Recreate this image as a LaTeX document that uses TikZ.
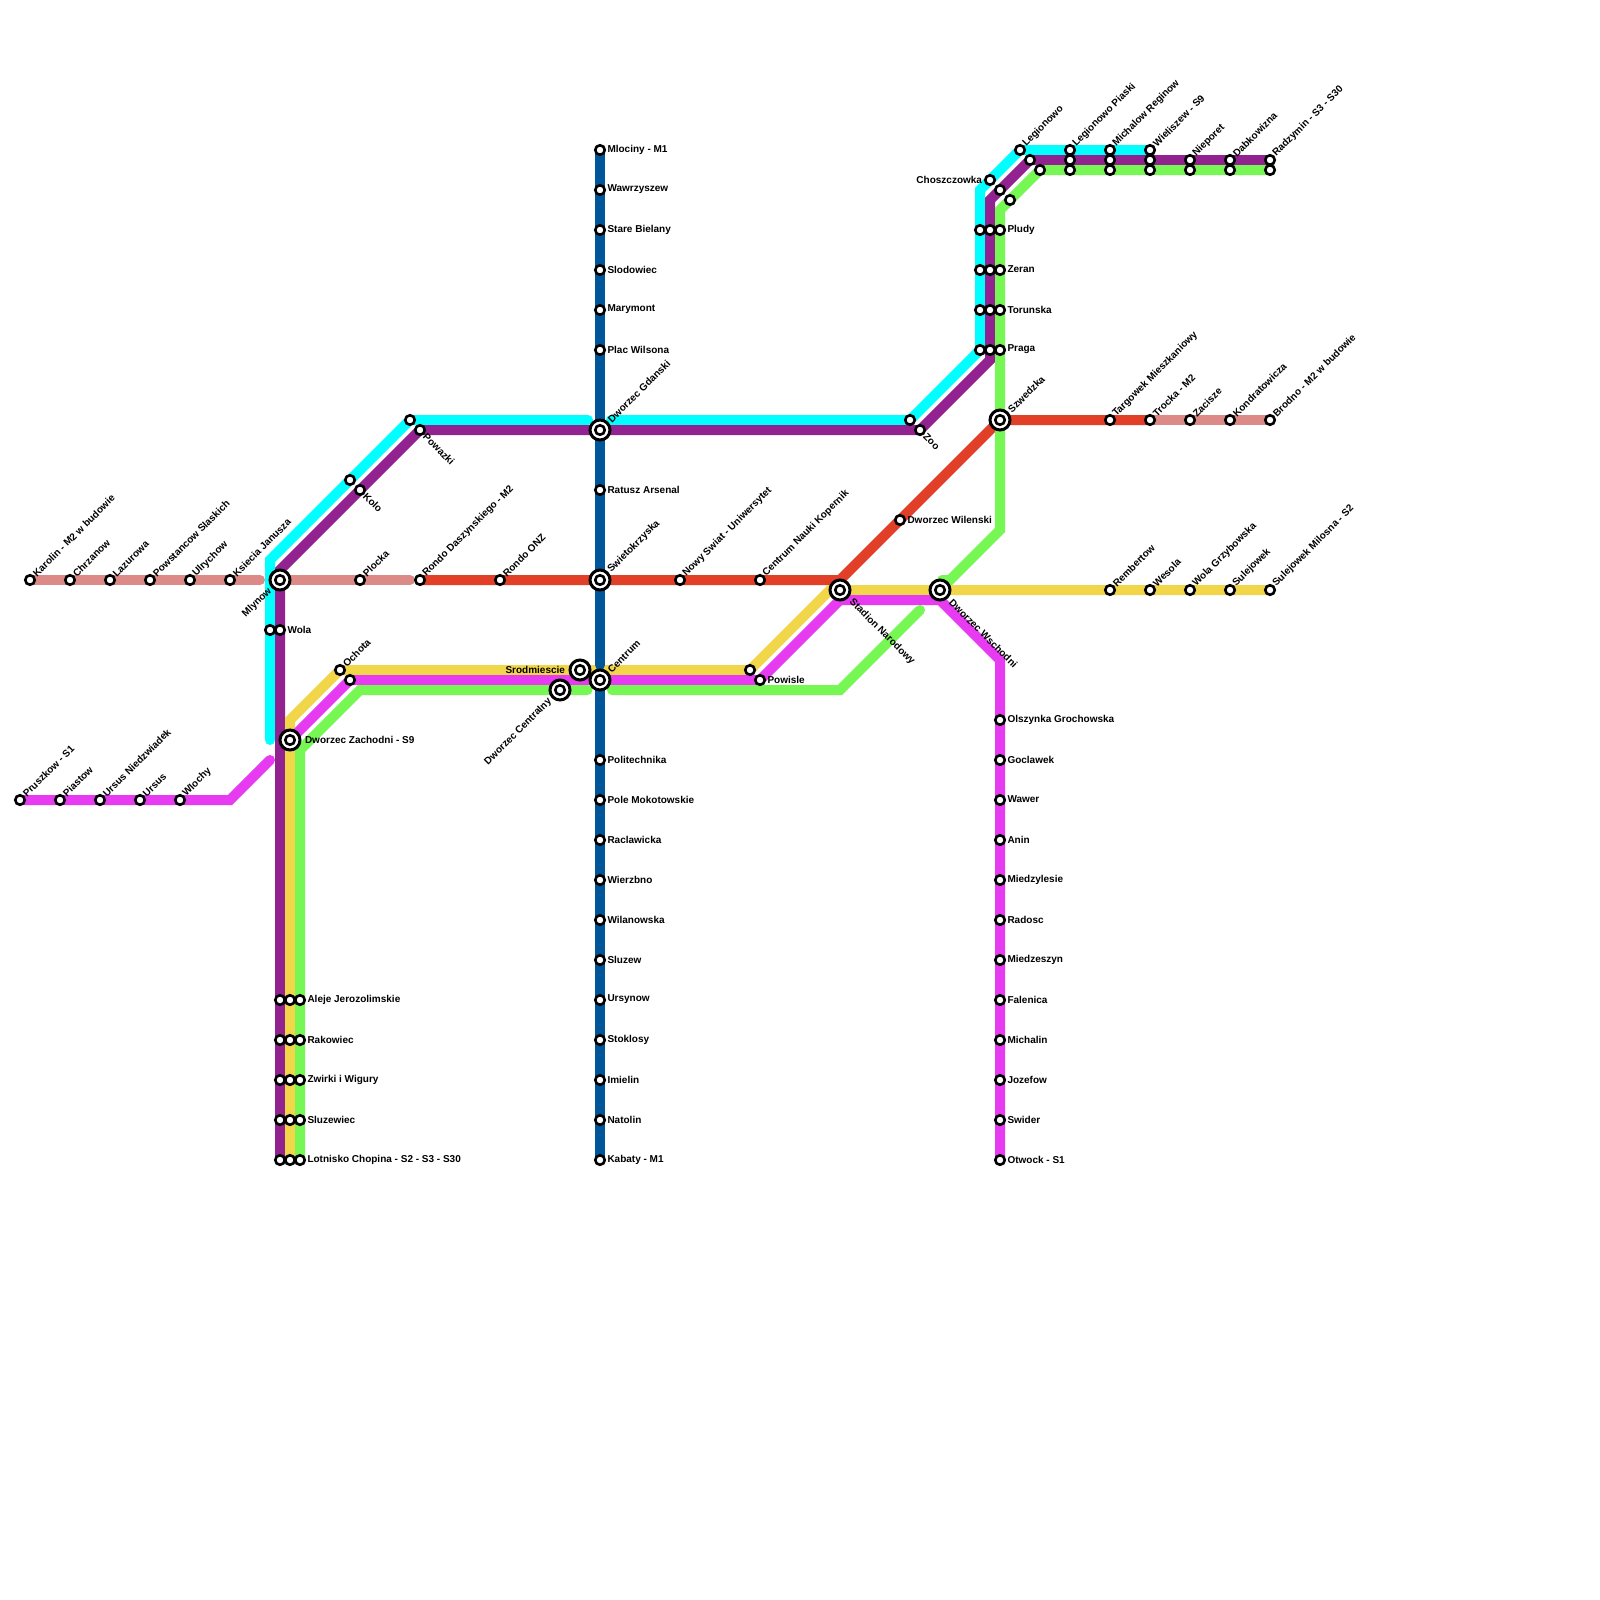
\documentclass[tikz,border=0pt]{standalone}
\usepackage{fontspec}
\setmainfont{Liberation Sans}
\pgfdeclarelayer{lines}
\pgfsetlayers{lines,main}
\definecolor{cCyan}{HTML}{00FFFF}
\definecolor{cPurple}{HTML}{92228F}
\definecolor{cMag}{HTML}{E63BF0}
\definecolor{cGreen}{HTML}{76F754}
\definecolor{cYellow}{HTML}{F2D64A}
\definecolor{cRed}{HTML}{E23F29}
\definecolor{cDusty}{HTML}{DB8A87}
\definecolor{cBlue}{HTML}{00569B}
\tikzset{
  stn/.style={circle,draw=black,fill=white,line width=1.3pt,minimum size=4.75pt,inner sep=0pt,outer sep=0pt},
  bigstn/.style={circle,draw=black,fill=white,line width=1.5pt,minimum size=10pt,inner sep=0pt,outer sep=0pt},
  lbl/.style={inner sep=0pt,outer sep=0pt,font=\fontsize{5pt}{6pt}\selectfont\bfseries,text=black},
  route/.style={line width=5pt,line cap=round,line join=miter}
}
% name x y text
\newcommand{\SP}[3]{\node[stn] (#1) at (#2,#3) {};}
\newcommand{\SNE}[4]{\SP{#1}{#2}{#3}\node[lbl,rotate=45,anchor=west] (#1-l) at ([shift={(4.5,-5)}]#2,#3) {#4};}
\newcommand{\SSE}[4]{\SP{#1}{#2}{#3}\node[lbl,rotate=-45,anchor=west] (#1-l) at ([shift={(5,5)}]#2,#3) {#4};}
\newcommand{\SR}[4]{\SP{#1}{#2}{#3}\node[lbl,anchor=west] (#1-l) at ([shift={(7.5,-0.5)}]#2,#3) {#4};}
\newcommand{\SL}[4]{\SP{#1}{#2}{#3}\node[lbl,anchor=east] (#1-l) at ([shift={(-8,-0.5)}]#2,#3) {#4};}
\newcommand{\BP}[3]{\node[bigstn] (#1) at (#2,#3) {};\node[stn] (#1-i) at (#2,#3) {};}
\newcommand{\BNE}[4]{\BP{#1}{#2}{#3}\node[lbl,rotate=45,anchor=west] (#1-l) at ([shift={(9.5,-9)}]#2,#3) {#4};}
\newcommand{\BSE}[4]{\BP{#1}{#2}{#3}\node[lbl,rotate=-45,anchor=west] (#1-l) at ([shift={(11,11)}]#2,#3) {#4};}
\newcommand{\BSW}[4]{\BP{#1}{#2}{#3}\node[lbl,rotate=45,anchor=east] (#1-l) at ([shift={(-10,10)}]#2,#3) {#4};}
\newcommand{\BR}[4]{\BP{#1}{#2}{#3}\node[lbl,anchor=west] (#1-l) at ([shift={(15,-0.5)}]#2,#3) {#4};}
\newcommand{\BL}[4]{\BP{#1}{#2}{#3}\node[lbl,anchor=east] (#1-l) at ([shift={(-15,-0.5)}]#2,#3) {#4};}
\begin{document}
\begin{tikzpicture}[x=0.5pt,y=-0.5pt]
\useasboundingbox (0,0) rectangle (1600,1600);
\begin{pgfonlayer}{lines}
\fill[white] (0,0) rectangle (1600,1600);
\end{pgfonlayer}
% west dusty / red
\SNE{karolin}{30}{580}{Karolin - M2 w budowie}
\SNE{chrzanow}{70}{580}{Chrzanow}
\SNE{lazurowa}{110}{580}{Lazurowa}
\SNE{powstancow}{150}{580}{Powstancow Slaskich}
\SNE{ulrychow}{190}{580}{Ulrychow}
\SNE{ksiecia}{230}{580}{Ksiecia Janusza}
\BSW{mlynow}{280}{580}{Mlynow}
\SNE{plocka}{360}{580}{Plocka}
\SNE{rondoD}{420}{580}{Rondo Daszynskiego - M2}
\SNE{rondoO}{500}{580}{Rondo ONZ}
\BNE{swieto}{600}{580}{Swietokrzyska}
\SNE{nowy}{680}{580}{Nowy Swiat - Uniwersytet}
\SNE{cnk}{760}{580}{Centrum Nauki Kopernik}
\BSE{stadion}{840}{590}{Stadion Narodowy}
\SR{wilenski}{900}{520}{Dworzec Wilenski}
\BNE{szwedzka}{1000}{420}{Szwedzka}
\SNE{targowek}{1110}{420}{Targowek Mieszkaniowy}
\SNE{trocka}{1150}{420}{Trocka - M2}
\SNE{zacisze}{1190}{420}{Zacisze}
\SNE{kondrat}{1230}{420}{Kondratowicza}
\SNE{brodno}{1270}{420}{Brodno - M2 w budowie}
% S1 west
\SNE{pruszkow}{20}{800}{Pruszkow - S1}
\SNE{piastow}{60}{800}{Piastow}
\SNE{ursusN}{100}{800}{Ursus Niedzwiadek}
\SNE{ursus}{140}{800}{Ursus}
\SNE{wlochy}{180}{800}{Wlochy}
% wola etc
\SP{wolaC}{270}{630}
\SR{wola}{280}{630}{Wola}
\SP{powazkiC}{410}{420}
\SSE{powazki}{420}{430}{Powazki}
\SP{koloC}{350}{480}
\SSE{kolo}{360}{490}{Kolo}
\SP{zooC}{910}{420}
\SSE{zoo}{920}{430}{Zoo}
\SNE{ochota}{340}{670}{Ochota}
\SP{ochotaM}{350}{680}
\BR{zach}{290}{740}{Dworzec Zachodni - S9}
% SW trunk
\SP{alejeP}{280}{1000}\SP{alejeY}{290}{1000}\SR{aleje}{300}{1000}{Aleje Jerozolimskie}
\SP{rakP}{280}{1040}\SP{rakY}{290}{1040}\SR{rak}{300}{1040}{Rakowiec}
\SP{zwP}{280}{1080}\SP{zwY}{290}{1080}\SR{zw}{300}{1080}{Zwirki i Wigury}
\SP{slP}{280}{1120}\SP{slY}{290}{1120}\SR{sl}{300}{1120}{Sluzewiec}
\SP{lotP}{280}{1160}\SP{lotY}{290}{1160}\SR{lot}{300}{1160}{Lotnisko Chopina - S2 - S3 - S30}
% M1
\SR{mlociny}{600}{150}{Mlociny - M1}
\SR{wawrz}{600}{190}{Wawrzyszew}
\SR{stare}{600}{230}{Stare Bielany}
\SR{slod}{600}{270}{Slodowiec}
\SR{mary}{600}{310}{Marymont}
\SR{plac}{600}{350}{Plac Wilsona}
\BNE{gdanski}{600}{430}{Dworzec Gdanski}
\SR{ratusz}{600}{490}{Ratusz Arsenal}
\BNE{centrum}{600}{680}{Centrum}
\BL{srod}{580}{670}{Srodmiescie}
\BSW{centralny}{560}{690}{Dworzec Centralny}
\SR{polit}{600}{760}{Politechnika}
\SR{pole}{600}{800}{Pole Mokotowskie}
\SR{racl}{600}{840}{Raclawicka}
\SR{wierz}{600}{880}{Wierzbno}
\SR{wilan}{600}{920}{Wilanowska}
\SR{sluzew}{600}{960}{Sluzew}
\SR{ursyn}{600}{1000}{Ursynow}
\SR{stok}{600}{1040}{Stoklosy}
\SR{imie}{600}{1080}{Imielin}
\SR{nato}{600}{1120}{Natolin}
\SR{kabaty}{600}{1160}{Kabaty - M1}
% powisle
\SP{powisleY}{750}{670}
\SR{powisle}{760}{680}{Powisle}
% east
\BSE{wschodni}{940}{590}{Dworzec Wschodni}
\SNE{rembertow}{1110}{590}{Rembertow}
\SNE{wesola}{1150}{590}{Wesola}
\SNE{wolaG}{1190}{590}{Wola Grzybowska}
\SNE{sulej}{1230}{590}{Sulejowek}
\SNE{sulejM}{1270}{590}{Sulejowek Milosna - S2}
\SR{olsz}{1000}{720}{Olszynka Grochowska}
\SR{gocl}{1000}{760}{Goclawek}
\SR{wawer}{1000}{800}{Wawer}
\SR{anin}{1000}{840}{Anin}
\SR{miedzy}{1000}{880}{Miedzylesie}
\SR{radosc}{1000}{920}{Radosc}
\SR{miedze}{1000}{960}{Miedzeszyn}
\SR{falen}{1000}{1000}{Falenica}
\SR{michalin}{1000}{1040}{Michalin}
\SR{jozef}{1000}{1080}{Jozefow}
\SR{swider}{1000}{1120}{Swider}
\SR{otwock}{1000}{1160}{Otwock - S1}
% north
\SL{chosz}{990}{180}{Choszczowka}
\SP{choszP}{1000}{190}
\SP{choszG}{1010}{200}
\SP{pludyC}{980}{230}\SP{pludyP}{990}{230}\SR{pludy}{1000}{230}{Pludy}
\SP{zeranC}{980}{270}\SP{zeranP}{990}{270}\SR{zeran}{1000}{270}{Zeran}
\SP{torC}{980}{310}\SP{torP}{990}{310}\SR{tor}{1000}{310}{Torunska}
\SP{pragaC}{980}{350}\SP{pragaP}{990}{350}\SR{praga}{1000}{350}{Praga}
\SNE{legion}{1020}{150}{Legionowo}
\SP{legionP}{1030}{160}
\SP{legionG}{1040}{170}
\SNE{lpC}{1070}{150}{Legionowo Piaski}\SP{lpP}{1070}{160}\SP{lpG}{1070}{170}
\SNE{mrC}{1110}{150}{Michalow Reginow}\SP{mrP}{1110}{160}\SP{mrG}{1110}{170}
\SNE{wiC}{1150}{150}{Wieliszew - S9}\SP{wiP}{1150}{160}\SP{wiG}{1150}{170}
\SNE{niP}{1190}{160}{Nieporet}\SP{niG}{1190}{170}
\SNE{daP}{1230}{160}{Dabkowizna}\SP{daG}{1230}{170}
\SNE{raP}{1270}{160}{Radzymin - S3 - S30}\SP{raG}{1270}{170}
% bend and free-end coordinates
\coordinate (dW1) at (260,580);
\coordinate (dW2) at (410,580);
\coordinate (mgS1) at (230,800);
\coordinate (mgS2) at (270,760);
\coordinate (cy0) at (270,740);
\coordinate (cy1) at (270,560);
\coordinate (cy2) at (588,420);
\coordinate (cy3) at (611,420);
\coordinate (cy4) at (980,190);
\coordinate (pu1) at (280,570);
\coordinate (pu2) at (990,360);
\coordinate (pu3) at (990,200);
\coordinate (ye1) at (290,720);
\coordinate (ye2) at (830,590);
\coordinate (mg1) at (840,600);
\coordinate (mg2) at (940,600);
\coordinate (mg3) at (1000,660);
\coordinate (mg4) at (760,680);
\coordinate (mg5) at (295,735);
\coordinate (gr1) at (300,750);
\coordinate (gr2) at (360,690);
\coordinate (gr3) at (587.5,690);
\coordinate (gr4) at (612,690);
\coordinate (gr5) at (840,690);
\coordinate (gr6) at (920,610);
\coordinate (gr7) at (942,580);
\coordinate (gr8) at (950,580);
\coordinate (gr9) at (1000,530);
\coordinate (gr10) at (1000,210);
\coordinate (re1) at (840,580);
\coordinate (bl1) at (600,665);
\begin{pgfonlayer}{lines}
\draw[route,cCyan] (cy0) -- (cy1) -- (powazkiC.center) -- (cy2);
\draw[route,cCyan] (cy3) -- (zooC.center) -- (pragaC.center) -- (cy4) -- (legion.center) -- (wiC.center);
\draw[route,cDusty] (karolin.center) -- (dW1);
\draw[route,cDusty] (mlynow.center) -- (dW2);
\draw[route,cDusty] (trocka.center) -- (brodno.center);
\draw[route,cRed] (rondoD.center) -- (re1) -- (szwedzka.center) -- (trocka.center);
\draw[route,cPurple] (lotP.center) -- (pu1) -- (powazki.center) -- (zoo.center) -- (pu2) -- (pu3) -- (legionP.center) -- (raP.center);
\draw[route,cYellow] (lotY.center) -- (ye1) -- (ochota.center) -- (powisleY.center) -- (ye2) -- (sulejM.center);
\draw[route,cMag] (pruszkow.center) -- (mgS1) -- (mgS2);
\draw[route,cMag] (otwock.center) -- (mg3) -- (mg2) -- (mg1) -- (mg4) -- (ochotaM.center) -- (mg5);
\draw[route,cGreen] (lot.center) -- (gr1) -- (gr2) -- (gr3);
\draw[route,cGreen] (gr4) -- (gr5) -- (gr6);
\draw[route,cGreen] (gr7) -- (gr8) -- (gr9) -- (gr10) -- (legionG.center) -- (raG.center);
\draw[route,cBlue] (mlociny.center) -- (bl1);
\draw[route,cBlue] (centrum.center) -- (kabaty.center);
\end{pgfonlayer}
\end{tikzpicture}
\end{document}
